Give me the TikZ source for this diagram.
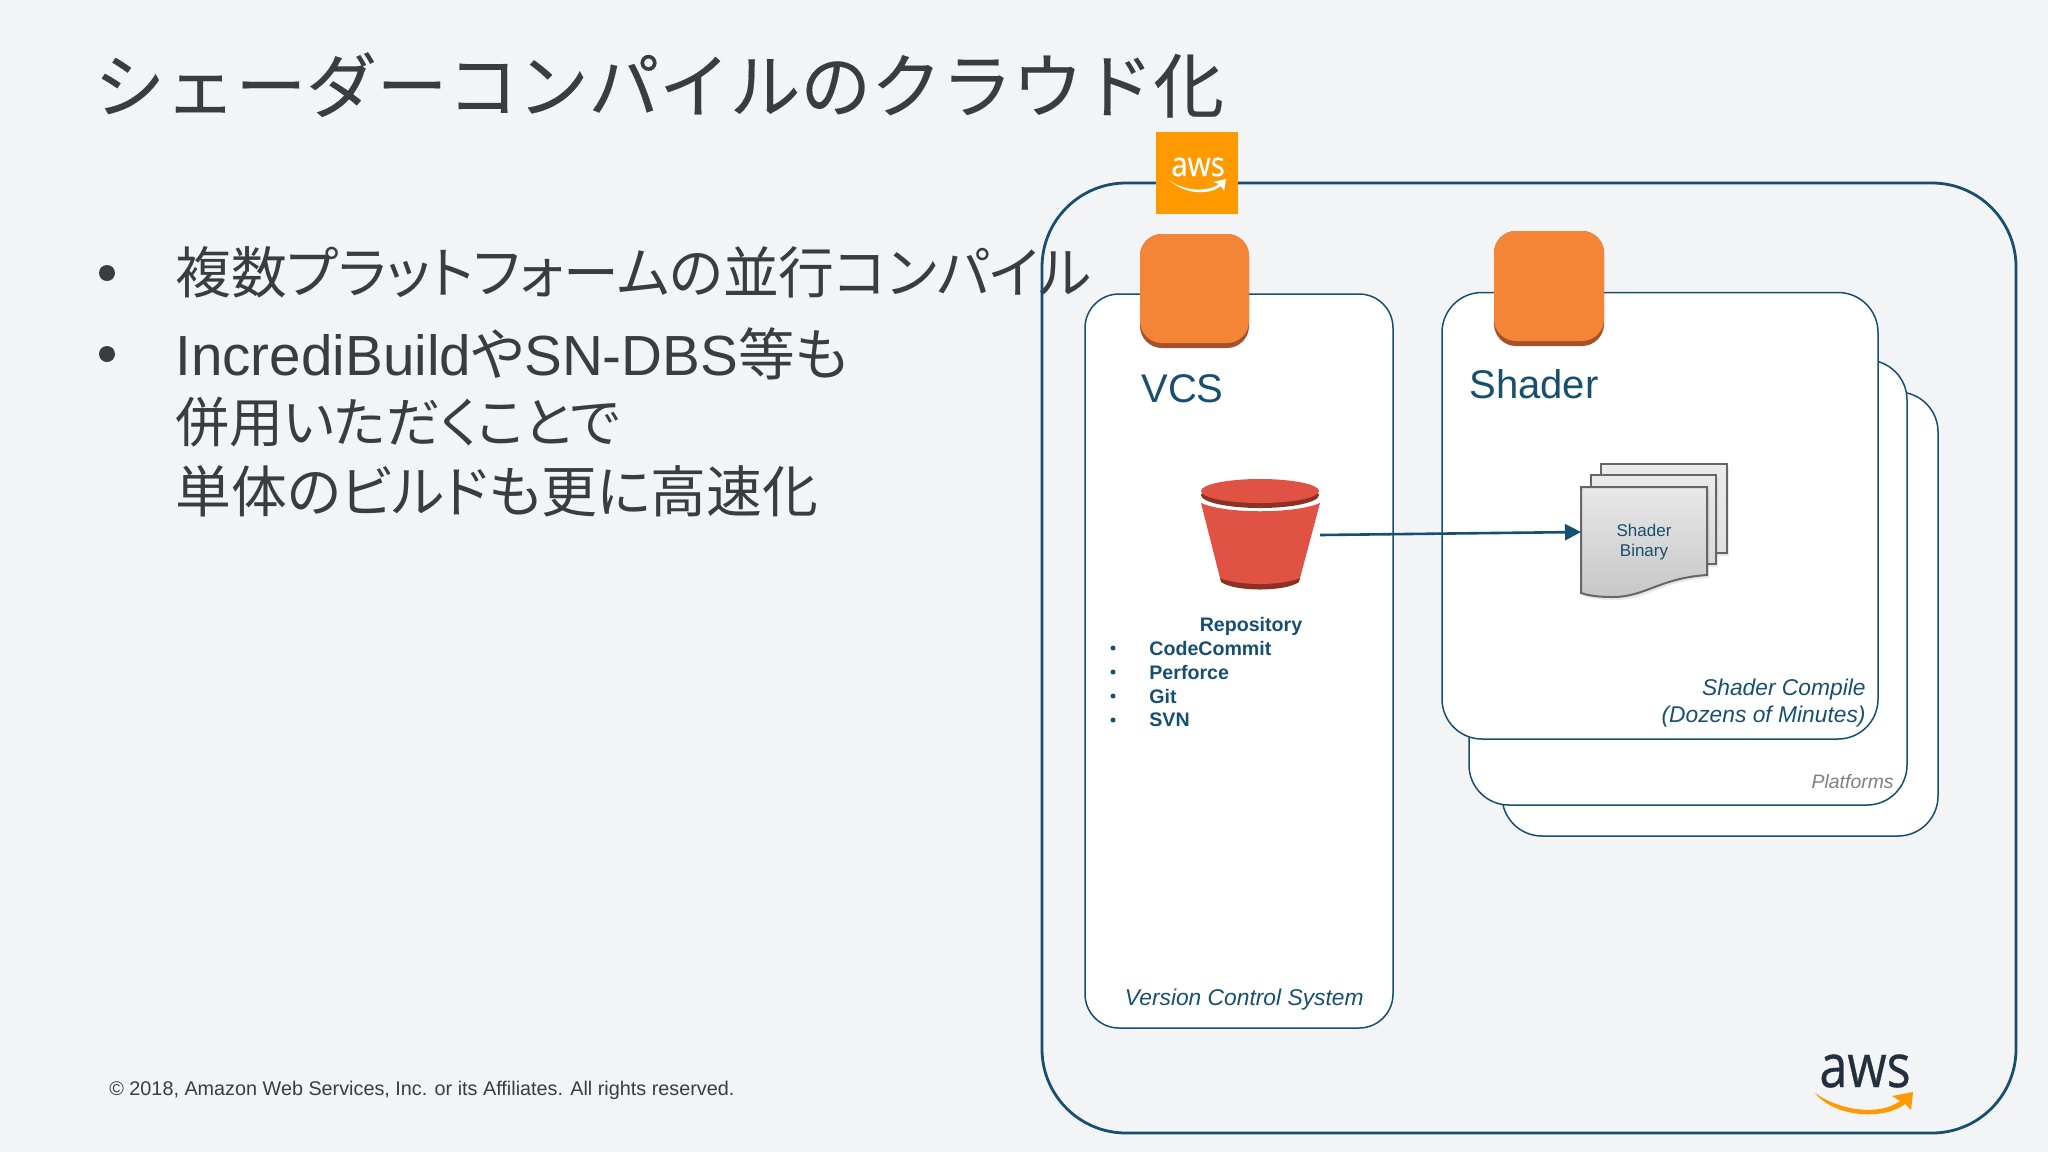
\documentclass[tikz,border=0pt]{standalone}
\usepackage{fontspec}
\setmainfont{Liberation Sans}
\newfontfamily\jp[FakeBold=0.25]{Noto Sans CJK JP}
\newfontfamily\jpp[RawFeature=+palt]{Noto Sans CJK JP}
\newfontfamily\logofont[FakeBold=0.5]{Open Sans}
\usetikzlibrary{arrows.meta,shadows}
\definecolor{bg}{HTML}{F3F4F5}
\definecolor{teal}{HTML}{174F6E}
\definecolor{ink}{HTML}{3A3D40}
\definecolor{awsorange}{HTML}{FF9900}
\definecolor{svc}{HTML}{F58536}
\definecolor{svcdark}{HTML}{A5522A}
\definecolor{bucket}{HTML}{E05243}
\definecolor{bucketdark}{HTML}{8C3123}
\definecolor{logoink}{HTML}{232F3E}
\newcommand{\lat}[1]{{\rmfamily #1}}
\tikzset{
 panel/.style={draw=teal,fill=white,line width=0.75pt,rounded corners=#1,inner sep=0pt,outer sep=0pt},
 panel/.default=20pt,
 tile/.style={fill=#1,rounded corners=11pt,inner sep=0pt,outer sep=0pt},
 jptext/.style={font=\jpp\fontsize{#1}{#1}\selectfont,text=ink,anchor=west,inner sep=0pt},
 jptext/.default=27.9,
 dotmark/.style={circle,fill=#1,inner sep=0pt},
 itemtext/.style={font=\bfseries\fontsize{9.8}{10}\selectfont,text=teal,anchor=west,inner sep=0pt},
 note/.style={font=\itshape\fontsize{11.4}{12}\selectfont,text=teal,inner sep=0pt},
 sheet/.style={draw=black!60,line width=1pt,line join=miter,drop shadow={opacity=0.18,shadow xshift=1pt,shadow yshift=-1.5pt}},
 flow/.style={draw=teal,line width=1.3pt,-{Triangle[length=8pt,width=8pt]},shorten >=0pt},
}
\begin{document}
\begin{tikzpicture}[x=0.5pt,y=-0.5pt]
\useasboundingbox (0,0) rectangle (2048,1152);
\fill[bg] (0,0) rectangle (2048,1152);

\node[jptext,font=\jp\fontsize{35.3}{35}\selectfont] (title) at (94,85) {シェーダーコンパイルのクラウド化};
\node[dotmark=ink,minimum size=8pt] (b1) at (107,273) {};
\node[dotmark=ink,minimum size=8pt] (b2) at (107,354) {};
\node[jptext] (l1) at (175,272) {複数プラットフォームの並行コンパイル};
\node[jptext=28.3] (l2) at (175,354) {\lat{IncrediBuild}や\lat{SN-DBS}等も};
\node[jptext=27] (l3) at (175,422) {併用いただくことで};
\node[jptext] (l4) at (175,491) {単体のビルドも更に高速化};
\node[font=\fontsize{9.9}{10}\selectfont,text=ink,anchor=west,inner sep=0pt] (copy) at (109,1090.5) {© 2018, Amazon Web Services, Inc. or its Affiliates. All rights reserved.};

\node[draw=teal,line width=1.4pt,rounded corners=42pt,minimum width=487pt,minimum height=475pt,inner sep=0pt] (cloud) at (1529,658) {};

\node[panel,minimum width=218pt,minimum height=222pt] (p3) at (1720,614) {};
\node[panel,minimum width=219pt,minimum height=222.5pt] (p2) at (1688,582.5) {};
\node[panel,minimum width=218pt,minimum height=223.25pt] (p1) at (1660,515.75) {};
\node[panel=17pt,minimum width=154pt,minimum height=367pt] (vcs) at (1239,661) {};

% AWS badge
\node[fill=awsorange,minimum size=41pt,inner sep=0pt] (badge) at (1197,173) {};
\node[font=\logofont\fontsize{17}{17}\selectfont,text=white,inner sep=0pt,xscale=0.87] (badgetxt) at (1198,167) {aws};
\fill[white] (1169,180) .. controls (1185,192) and (1208,192) .. (1219,184) -- (1213,182) -- (1226,179) -- (1224,191) -- (1221,186) .. controls (1208,196) and (1184,194) .. (1169,180) -- cycle;

% service tiles
\node[tile=svcdark,minimum width=54.5pt,minimum height=57pt] (s1d) at (1194.5,291) {};
\node[tile=svc,minimum width=54.5pt,minimum height=54.5pt] (s1) at (1194.5,288.5) {};
\node[tile=svcdark,minimum width=55pt,minimum height=57.5pt] (s2d) at (1549,288.5) {};
\node[tile=svc,minimum width=55pt,minimum height=55pt] (s2) at (1549,286) {};

\node[font=\fontsize{20}{20}\selectfont,text=teal,anchor=west,inner sep=0pt] (vcst) at (1141,389) {VCS};
\node[font=\fontsize{20}{20}\selectfont,text=teal,anchor=west,inner sep=0pt] (shat) at (1469,384) {Shader};

% bucket
\fill[bucketdark] (1220,578) -- (1300,578) -- (1299,582) .. controls (1285,592) and (1235,592) .. (1221,582) -- cycle;
\fill[bucket] (1201,503) .. controls (1225,514) and (1295,514) .. (1320,503) -- (1300,578) .. controls (1280,586) and (1240,586) .. (1220,578) -- cycle;
\fill[bucketdark] (1260,495) ellipse [x radius=59,y radius=13];
\fill[bucket] (1260,491) ellipse [x radius=59,y radius=12];
\coordinate (bucketout) at (1320,535);

% document stack
\path[sheet,top color=white!92!black,bottom color=white!88!black] (1601,464) -- (1727,464) -- (1727,553) -- (1601,553) -- cycle;
\path[sheet,top color=white!92!black,bottom color=white!85!black] (1591,475) -- (1716,475) -- (1716,564) -- (1591,564) -- cycle;
\path[sheet,top color=white!91!black,bottom color=black!22] (1581,487) -- (1707,487) -- (1707,575) .. controls (1660,578) and (1645,597) .. (1613,597) .. controls (1600,597) and (1590,596) .. (1581,593) -- cycle;
\coordinate (docin) at (1581,532);
\node[font=\fontsize{8.5}{10}\selectfont,text=teal,inner sep=0pt] (d1) at (1644,530) {Shader};
\node[font=\fontsize{8.5}{10}\selectfont,text=teal,inner sep=0pt] (d2) at (1644,552) {Binary};

\draw[flow] (bucketout) -- (docin);

% repository list
\node[font=\bfseries\fontsize{9.8}{10}\selectfont,text=teal,inner sep=0pt] (repo) at (1251,626) {Repository};
\foreach \n/\t/\y in {a/CodeCommit/648,b/Perforce/672,c/Git/696,d/SVN/720}{
  \node[dotmark=teal,minimum size=2.5pt] (dot\n) at (1113,\y) {};
  \node[itemtext] (item\n) at (1149,\y) {\t};
}

\node[note,anchor=east] (vcsn) at (1364,999.5) {Version Control System};
\node[note,anchor=east] (sc1) at (1866,689.5) {Shader Compile};
\node[note,anchor=east] (sc2) at (1866,716.5) {(Dozens of Minutes)};
\node[font=\itshape\fontsize{9.7}{10}\selectfont,text=black!50,anchor=east,inner sep=0pt] (plat) at (1894,782) {Platforms};

% AWS logo
\node[font=\logofont\fontsize{30}{30}\selectfont,text=logoink,inner sep=0pt,xscale=0.84] (logotxt) at (1865,1071) {aws};
\fill[awsorange] (1815,1093) .. controls (1840,1111) and (1880,1116) .. (1900,1101) -- (1892,1096) -- (1913,1092) -- (1911,1110) -- (1905,1104) .. controls (1885,1120) and (1835,1118) .. (1815,1093) -- cycle;
\end{tikzpicture}
\end{document}
